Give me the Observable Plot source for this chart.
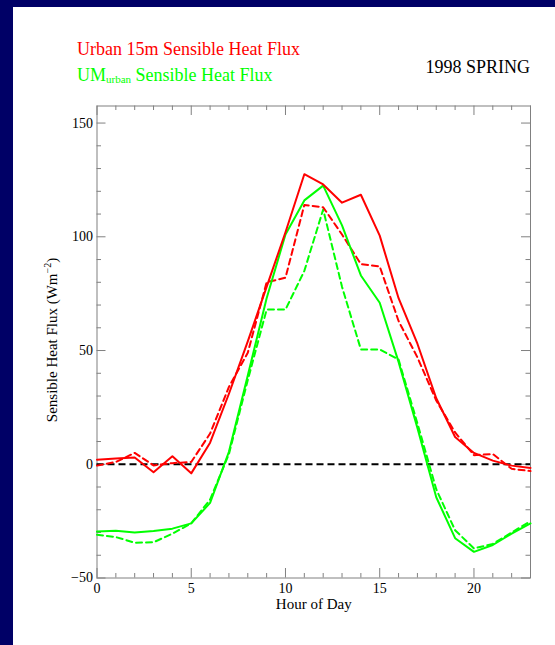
<!DOCTYPE html>
<html><head><meta charset="utf-8">
<script src="https://cdn.jsdelivr.net/npm/d3@7"></script>
<script src="https://cdn.jsdelivr.net/npm/@observablehq/plot@0.6"></script>
<style>
html,body{margin:0;padding:0;}
body{background:#000066;width:555px;height:645px;overflow:hidden;position:relative;font-family:"Liberation Serif","Times New Roman",serif;}
#panel{position:absolute;left:13px;top:7px;width:542px;height:638px;background:#fff;overflow:hidden;}
#chart{position:absolute;left:0;top:0;}
.t{position:absolute;white-space:nowrap;font-size:18px;line-height:18px;font-family:"Liberation Serif","Times New Roman",serif;}
#ylab{position:absolute;left:39px;top:333px;white-space:nowrap;font-size:15px;transform:translate(-50%,-50%) rotate(-90deg);color:#000;font-family:"Liberation Serif","Times New Roman",serif;}
</style></head><body>
<div id="panel">
  <div id="chart"></div>
  <div class="t" style="left:64px;top:33px;color:#ff0000">Urban 15m Sensible Heat Flux</div>
  <div class="t" style="left:64px;top:59px;color:#00ff00">UM<span style="font-size:11px;position:relative;top:2px">urban</span> Sensible Heat Flux</div>
  <div class="t" style="right:25px;top:51px;color:#000">1998 SPRING</div>
  <div id="ylab">Sensible Heat Flux (Wm<span style="font-size:10px;position:relative;top:-6px">−2</span>)</div>
</div>
<script>
const hours = [0,1,2,3,4,5,6,7,8,9,10,11,12,13,14,15,16,17,18,19,20,21,22,23];
const urbanSolid  = [2,2.5,3,-3.5,3.5,-4,9.5,31,54,78,102,127.5,123,115,118.5,100.5,73,53,29,12,5,1.6,-0.6,-1.6];
const urbanDashed = [-0.6,1,5,-0.5,0.5,1,13.5,34,49,80,82,114,113,101,88,87,63,47,28,14,4,4.5,-2,-3];
const umSolid     = [-29.6,-29.2,-30,-29.3,-28.3,-26,-17,5.5,39,73,101,116,122.5,105,83,71,45,16,-14.5,-32.5,-38.5,-35.5,-30.5,-26];
const umDashed    = [-31,-32,-34.5,-34.3,-30.5,-26,-15.5,4.5,37,68,68,85,112,78,50.5,50.5,46,18,-11,-29,-37,-35,-30,-25];
const xLabels = [0,5,10,15,20];
const xMinor = hours.filter(h => h % 5 !== 0);
const yLabels = [-50,0,50,100,150];
const yMinor = [-40,-30,-20,-10,10,20,30,40,60,70,80,90,110,120,130,140];

const W = 542, H = 638;
const mL = 83.5, mR = 25, mT = 98.5, mB = 67.5;
const fw = W - mL - mR, fh = H - mT - mB;
const tickColor = "#808080";
const table = arr => hours.map((h, i) => ({hour: h, value: arr[i]}));

const svg = Plot.plot({
  width: W, height: H,
  marginLeft: mL, marginRight: mR, marginTop: mT, marginBottom: mB,
  x: {domain: [0, 23]},
  y: {domain: [-50, 157.5]},
  style: {fontFamily: "'Liberation Serif', 'Times New Roman', serif", fontSize: "14px", color: "#000", background: "transparent", overflow: "visible"},
  marks: [
    Plot.tickX(xLabels, {x: d => d, stroke: tickColor, insetTop: fh - 9.5}),
    Plot.tickX(xLabels, {x: d => d, stroke: tickColor, insetBottom: fh - 9.5}),
    Plot.tickX(xMinor, {x: d => d, stroke: tickColor, insetTop: fh - 4.5}),
    Plot.tickX(xMinor, {x: d => d, stroke: tickColor, insetBottom: fh - 4.5}),
    Plot.tickY(yLabels, {y: d => d, stroke: tickColor, insetRight: fw - 9}),
    Plot.tickY(yLabels, {y: d => d, stroke: tickColor, insetLeft: fw - 9}),
    Plot.tickY(yMinor, {y: d => d, stroke: tickColor, insetRight: fw - 4.5}),
    Plot.tickY(yMinor, {y: d => d, stroke: tickColor, insetLeft: fw - 4.5}),
    Plot.frame({stroke: tickColor}),
    Plot.ruleY([0], {stroke: "#000", strokeWidth: 2, strokeDasharray: "7,4"}),
    Plot.line(table(umDashed), {x: "hour", y: "value", stroke: "#00ff00", strokeWidth: 2, strokeDasharray: "6,4"}),
    Plot.line(table(urbanDashed), {x: "hour", y: "value", stroke: "#ff0000", strokeWidth: 2, strokeDasharray: "6,4"}),
    Plot.line(table(umSolid), {x: "hour", y: "value", stroke: "#00ff00", strokeWidth: 2}),
    Plot.line(table(urbanSolid), {x: "hour", y: "value", stroke: "#ff0000", strokeWidth: 2}),
    Plot.axisX({ticks: xLabels, tickSize: 0, tickPadding: 5, label: null, fontSize: 14}),
    Plot.axisY({ticks: yLabels, tickSize: 0, tickPadding: 4, label: null, fontSize: 14}),
    Plot.text(["Hour of Day"], {frameAnchor: "bottom", dy: 31, fontSize: 15, fill: "#000"})
  ]
});
document.getElementById("chart").appendChild(svg);
</script>
</body></html>
